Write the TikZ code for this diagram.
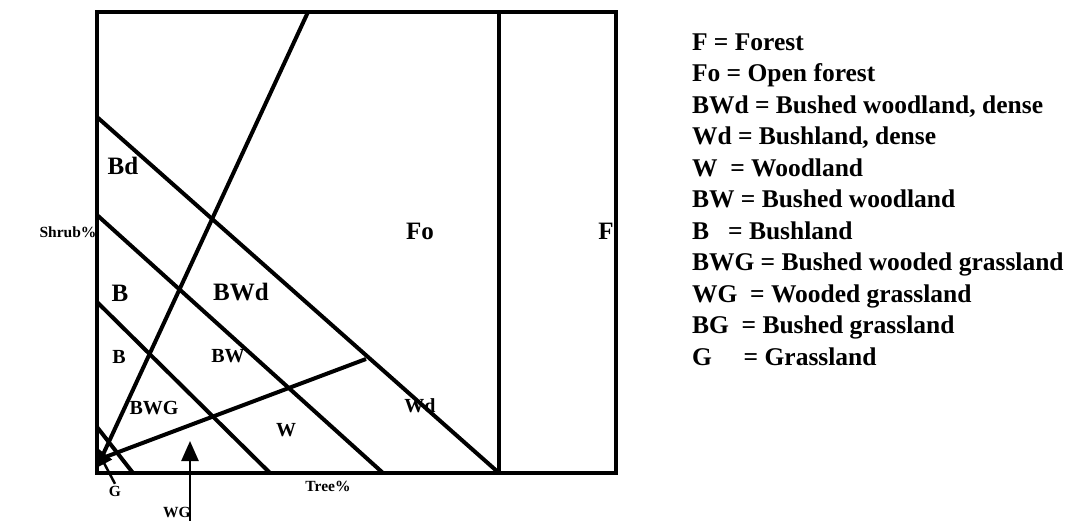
\documentclass[tikz,border=0pt]{standalone}
\usepackage{fontspec}
\setmainfont{Liberation Serif}
\usetikzlibrary{arrows.meta}
\begin{document}
\begin{tikzpicture}[x=1pt,y=-1pt, line width=4pt,
  big/.style={font=\bfseries\fontsize{25}{25}\selectfont, inner sep=0},
  small/.style={font=\bfseries\fontsize{20}{20}\selectfont, inner sep=0},
  axis/.style={font=\bfseries\fontsize{15.5}{15.5}\selectfont, inner sep=0},
  leg/.style={font=\bfseries\fontsize{25.5}{25.5}\selectfont, inner sep=0, anchor=base west},
  arr/.style={line width=2.5pt, -{Triangle[length=20pt,width=17pt]}}]
\useasboundingbox (0,0) rectangle (1070,521);
% frame and boundaries
\draw[line width=4.5pt, line join=miter] (97,12) rectangle (616,473);
\draw (499,12) -- (499,473);
\draw (308,12) -- (100,461);
\draw (97,117) -- (499,473);
\draw (97,215) -- (383,473);
\draw (97,302) -- (270,473);
\draw (97,427) -- (133,473);
\draw (100,459) -- (366,359);
% class labels
\node[big] (bd) at (123,166) {Bd};
\node[big] (fo) at (420,231) {Fo};
\node[big] (f) at (606,231) {F};
\node[big] (b1) at (120,293) {B};
\node[big] (bwd) at (241,292) {BWd};
\node[small] (b2) at (119,357) {B};
\node[small] (bw) at (228,356) {BW};
\node[small] (bwg) at (154,408) {BWG};
\node[small] (w) at (286,430) {W};
\node[small] (wd) at (420,406) {Wd};
% axis labels
\node[axis] (shrub) at (68,232) {Shrub\%};
\node[axis] (tree) at (328,486) {Tree\%};
\node[axis] (g) at (115,491) {G};
\node[axis] (wg) at (177,512) {WG};
% pointers
\coordinate (wgbase) at (190,521);
\coordinate (wgtip) at (190,441);
\draw[arr] (wgbase) -- (wgtip);
\coordinate (gtip) at (95,446);
\draw[arr] (g.north) -- (gtip);
% legend
\foreach \i/\t in {0/{F = Forest},
                   1/{Fo = Open forest},
                   2/{BWd = Bushed woodland, dense},
                   3/{Wd = Bushland, dense},
                   4/{W\ \ = Woodland},
                   5/{BW = Bushed woodland},
                   6/{B\ \ \ = Bushland},
                   7/{BWG = Bushed wooded grassland},
                   8/{WG\ \ = Wooded grassland},
                   9/{BG\ \ = Bushed grassland},
                   10/{G\ \ \ \ \ = Grassland}}
  \node[leg] (leg\i) at (690, 50.4+31.5*\i) {\t};
\end{tikzpicture}
\end{document}
